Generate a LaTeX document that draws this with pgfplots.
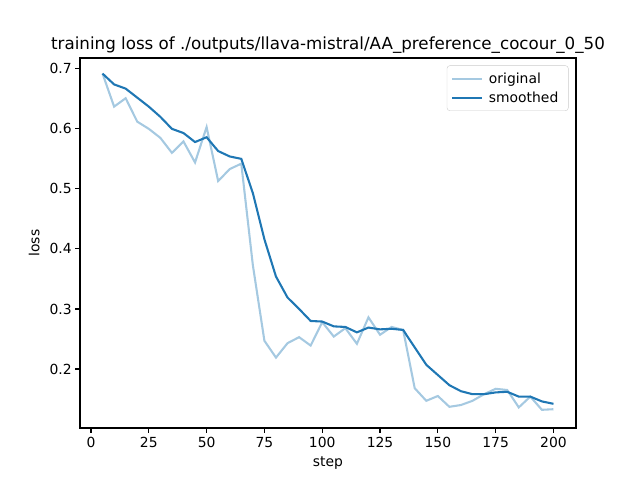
\documentclass[border=0pt]{standalone}
\usepackage{pgfplots}
\pgfplotsset{compat=1.18}
\usepackage{fontspec}
\setmainfont{DejaVu Sans}
\definecolor{mplblue}{HTML}{1F77B4}
\definecolor{mpllight}{RGB}{165,201,225}
\begin{document}
\begin{tikzpicture}
\useasboundingbox (-80pt,-52pt) rectangle (560pt,428pt);
\begin{axis}[
  at={(0pt,0pt)}, anchor=south west,
  scale only axis, width=496pt, height=370pt,
  xmin=-4.75, xmax=209.75, ymin=0.1017, ymax=0.718,
  xtick={0,25,50,75,100,125,150,175,200},
  ytick={0.2,0.3,0.4,0.5,0.6,0.7},
  yticklabel style={/pgf/number format/.cd,fixed,fixed zerofill,precision=1},
  /pgf/number format/assume math mode=true,
  tick label style={font=\fontsize{13.9}{16}\selectfont},
  label style={font=\fontsize{13.9}{16}\selectfont},
  title style={font=\fontsize{16.7}{19}\selectfont, yshift=-5pt},
  title={training loss of ./outputs/llava-mistral/AA\_preference\_cocour\_0\_50},
  xlabel={step}, ylabel={loss},
  tick align=outside, xtick pos=bottom, ytick pos=left,
  major tick length=4.86pt,
  every tick/.style={black, line width=1.11pt},
  axis line style={line width=1.11pt},
  xticklabel style={yshift=-1pt},
  xlabel style={yshift=-2pt},
  ylabel style={yshift=3pt},
  legend style={at={(0.985,0.98)}, anchor=north east, draw=black!20, rounded corners=3pt, fill=white, fill opacity=0.8, text opacity=1, font=\fontsize{13.9}{16}\selectfont, inner xsep=4pt, inner ysep=5pt, row sep=3pt, nodes={inner xsep=6pt}},
  legend cell align=left,
  legend image code/.code={\draw[#1] (0cm,0cm) -- (1.05cm,0cm);},
]
\addplot[mpllight, line width=2.08pt] coordinates {
(5,0.692) (10,0.637) (15,0.651) (20,0.612) (25,0.600) (30,0.585) (35,0.560) (40,0.579)
(45,0.544) (50,0.603) (55,0.513) (60,0.533) (65,0.542) (70,0.373) (75,0.247) (80,0.219)
(85,0.243) (90,0.253) (95,0.239) (100,0.278) (105,0.254) (110,0.268) (115,0.242) (120,0.286)
(125,0.257) (130,0.270) (135,0.265) (140,0.168) (145,0.147) (150,0.155) (155,0.137) (160,0.140)
(165,0.147) (170,0.158) (175,0.167) (180,0.165) (185,0.136) (190,0.154) (195,0.132) (200,0.133)
};
\addlegendentry{original}
\addplot[mplblue, line width=2.08pt] coordinates {
(5,0.692) (10,0.674) (15,0.667) (20,0.652) (25,0.637) (30,0.620) (35,0.600) (40,0.593)
(45,0.578) (50,0.586) (55,0.563) (60,0.554) (65,0.550) (70,0.493) (75,0.416) (80,0.354)
(85,0.319) (90,0.300) (95,0.280) (100,0.279) (105,0.271) (110,0.270) (115,0.261) (120,0.269)
(125,0.266) (130,0.267) (135,0.265) (140,0.236) (145,0.207) (150,0.190) (155,0.173) (160,0.163)
(165,0.158) (170,0.158) (175,0.161) (180,0.162) (185,0.154) (190,0.154) (195,0.146) (200,0.142)
};
\addlegendentry{smoothed}
\end{axis}
\end{tikzpicture}
\end{document}
